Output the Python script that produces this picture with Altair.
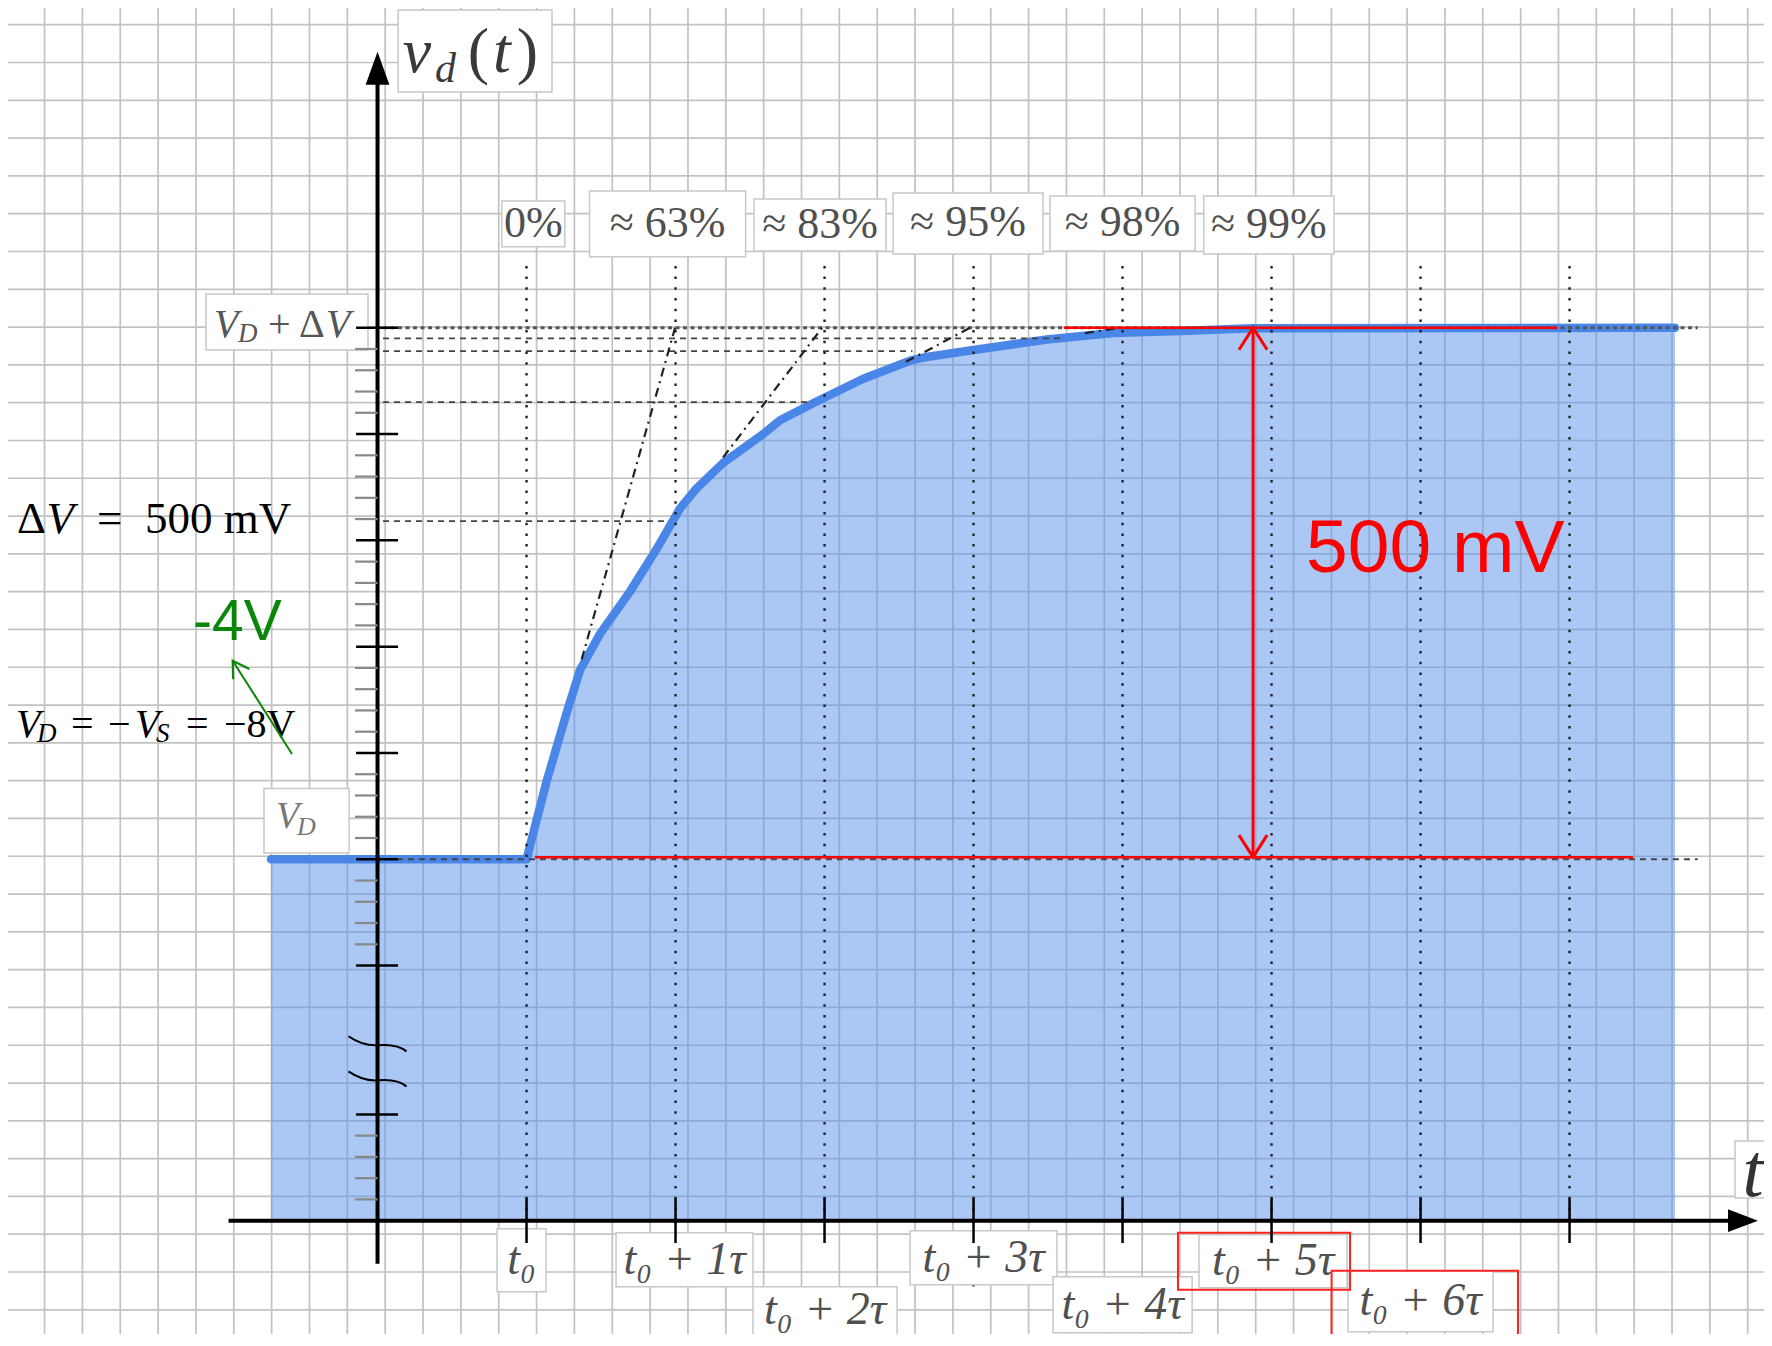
import altair as alt
import pandas as pd

W, H = 1756, 1326
SERIF = "Liberation Serif"
SANS = "Liberation Sans"

# ---------------- values ----------------
# time in units of tau (v_d axis at 0, t0 at 1); voltage in mV above V_D
CURVE_T = [-0.715, 1.0, 1.136, 1.27, 1.359, 1.493, 1.695, 1.874, 2.03, 2.142, 2.321,
           2.589, 2.701, 2.923, 3.26, 3.574, 3.663, 3.999, 4.491, 4.936, 5.386, 5.876, 8.708]
CURVE_MV = [0, 0, 74, 138, 178, 212, 252, 292, 330, 349, 373,
            400, 413, 429, 452, 469, 472, 479, 489, 495, 497, 499.5, 500]
T_AXIS_MV = -340

X_TICKS = [1, 2, 3, 4, 5, 6, 7, 8]
X_TICKS_LOW_DOTS = [2, 4, 6]
MAJOR_MV = [500, 400, 300, 200, 100, 0, -100, -240]
MINOR_MV = [480, 460, 440, 420, 380, 360, 340, 320, 280, 260, 240, 220, 180, 160, 140, 120,
            80, 60, 40, 20, -20, -40, -60, -80, -260, -280, -300, -320]
BREAK_MV = [-175, -208]

GUIDE_MV = [318, 430, 478, 490]
GUIDE_END_T = [1.93, 2.92, 3.59, 4.58]
FULL_END_T = 8.86

TAN_T1 = [1.370, 2.319, 3.547, 4.748]
TAN_MV1 = [188, 378, 468, 495]
TAN_T2 = [1.997, 2.984, 3.977, 4.983]
TAN_MV2 = [500, 500, 500, 500]

PCT_LABELS = ["0%", "≈ 63%", "≈ 83%", "≈ 95%", "≈ 98%", "≈ 99%"]
PCT_X1 = [0.834, 1.423, 2.527, 3.460, 4.513, 5.545]
PCT_X2 = [1.257, 2.470, 3.413, 4.466, 5.487, 6.419]
PCT_Y1 = [619.3, 628.7, 621.2, 626.8, 624.0, 624.0]
PCT_Y2 = [576.3, 566.9, 572.3, 569.4, 572.3, 569.4]

TIME_LABELS = ["t₀", "t₀ + 1τ", "t₀ + 2τ", "t₀ + 3τ", "t₀ + 4τ", "t₀ + 5τ", "t₀ + 6τ"]
TIME_X1 = [0.802, 1.601, 2.520, 3.574, 4.534, 5.513, 6.513]
TIME_X2 = [1.131, 2.520, 3.487, 4.560, 5.467, 6.507, 7.487]
TIME_Y1 = [-347.6, -351.3, -402.2, -349.5, -392.8, -353.2, -387.0]
TIME_Y2 = [-406.9, -402.2, -470.0, -400.3, -445.5, -403.1, -444.6]

RED_BOX_X1 = [5.372, 6.403]
RED_BOX_X2 = [6.527, 7.654]
RED_BOX_Y1 = [-351.3, -387.0]
RED_BOX_Y2 = [-404.9, -470.0]

DELTA_MV = 500
ARROW_T = 5.876

GRID_COLS = list(range(1, 47))
GRID_ROWS = list(range(0, 35))

# ---------------- scales ----------------
XS = alt.Scale(domain=[-2.48, 9.305], nice=False, zero=False)
YS = alt.Scale(domain=[-446.6, 800.8], nice=False, zero=False)
GXS = alt.Scale(domain=[0.0343, 46.43], nice=False, zero=False)
GYS = alt.Scale(domain=[-0.442, 34.64], nice=False, zero=False, reverse=True)


def X(f="x"):
    return alt.X(f"{f}:Q", scale=XS, axis=None)


def Y(f="y"):
    return alt.Y(f"{f}:Q", scale=YS, axis=None)


def segs(x1, y1, x2, y2, **mk):
    df = pd.DataFrame({"x": x1, "y": y1, "x2": x2, "y2": y2})
    return alt.Chart(df).mark_rule(**mk).encode(
        x=X(), y=Y(), x2=alt.X2("x2:Q"), y2=alt.Y2("y2:Q"))


def rects(x1, x2, y1, y2, **mk):
    df = pd.DataFrame({"x": x1, "x2": x2, "y": y1, "y2": y2})
    return alt.Chart(df).mark_rect(**mk).encode(
        x=X(), x2=alt.X2("x2:Q"), y=Y(), y2=alt.Y2("y2:Q"))


def pts(xs, ys, shape, size, **mk):
    df = pd.DataFrame({"x": xs, "y": ys})
    return alt.Chart(df).mark_point(shape=shape, size=size, opacity=1, **mk).encode(x=X(), y=Y())


def txt(items, size, color, italic=False, font=SERIF, align="left", baseline="alphabetic"):
    df = pd.DataFrame(items, columns=["label", "x", "y"])
    return alt.Chart(df).mark_text(
        font=font, fontSize=size, fontStyle="italic" if italic else "normal",
        color=color, align=align, baseline=baseline).encode(x=X(), y=Y(), text="label:N")


layers = []

# graph paper
layers.append(alt.Chart(pd.DataFrame({"g": GRID_COLS})).mark_rule(color="#c2c2c2", strokeWidth=1.7)
              .encode(x=alt.X("g:Q", scale=GXS, axis=None)))
layers.append(alt.Chart(pd.DataFrame({"g": GRID_ROWS})).mark_rule(color="#c2c2c2", strokeWidth=1.7)
              .encode(y=alt.Y("g:Q", scale=GYS, axis=None)))

# filled response
curve = pd.DataFrame({"x": CURVE_T, "y": CURVE_MV, "y2": [T_AXIS_MV] * len(CURVE_T)})
layers.append(alt.Chart(curve).mark_area(color="#5790ea", opacity=0.5)
              .encode(x=X(), y=Y(), y2=alt.Y2("y2:Q")))
layers.append(alt.Chart(curve).mark_line(color="#4a86e8", strokeWidth=8.5, strokeCap="round",
                                         strokeJoin="round").encode(x=X(), y=Y()))

# guide levels
n = len(GUIDE_MV)
layers.append(segs([0.037] * n, GUIDE_MV, GUIDE_END_T, GUIDE_MV,
                   color="#444", strokeWidth=1.8, strokeDash=[6, 5]))
layers.append(segs([0.13], [0], [FULL_END_T], [0], color="#444", strokeWidth=1.8, strokeDash=[6, 5]))
layers.append(segs([0.037], [DELTA_MV], [FULL_END_T], [DELTA_MV],
                   color="#555", strokeWidth=3.2, strokeDash=[4, 3.5]))

# vertical dotted lines
k = len(X_TICKS)
layers.append(segs(X_TICKS, [T_AXIS_MV] * k, X_TICKS, [561] * k,
                   color="#222", strokeWidth=2.4, strokeDash=[2.5, 8.2]))
m = len(X_TICKS_LOW_DOTS)
layers.append(segs(X_TICKS_LOW_DOTS, [T_AXIS_MV] * m, X_TICKS_LOW_DOTS, [-402] * m,
                   color="#222", strokeWidth=2.4, strokeDash=[2.5, 8.2]))

# tangents
layers.append(segs(TAN_T1, TAN_MV1, TAN_T2, TAN_MV2,
                   color="#222", strokeWidth=2.2, strokeDash=[9, 5, 2, 5]))

# red dimension lines
layers.append(segs([4.607, 1.057], [DELTA_MV, 2], [7.916, 8.426], [DELTA_MV, 2],
                   color="#ff0000", strokeWidth=2.5))
layers.append(segs([ARROW_T], [2], [ARROW_T], [DELTA_MV], color="#ff0000", strokeWidth=3))
layers.append(pts([ARROW_T], [DELTA_MV], "M -0.64 1 L 0 0 L 0.64 1", 1936,
                  filled=False, color="#ff0000", strokeWidth=3))
layers.append(pts([ARROW_T], [2], "M -0.64 -1 L 0 0 L 0.64 -1", 1936,
                  filled=False, color="#ff0000", strokeWidth=3))

# white label boxes
BOX_STYLE = dict(fill="white", stroke="#c8c8c8", strokeWidth=1.5)
layers.append(rects(PCT_X1, PCT_X2, PCT_Y1, PCT_Y2, **BOX_STYLE))
layers.append(rects(TIME_X1, TIME_X2, TIME_Y1, TIME_Y2, **BOX_STYLE))
layers.append(rects([0.138, -1.151, -0.762, 9.111], [1.171, -0.064, -0.191, 9.6],
                    [798.9, 531.8, 66.6, -265.0], [721.7, 479.1, 6.0, -318.6], **BOX_STYLE))

GRAY = "#505050"
pct_items = [(lab, (a + b) / 2, (c + d) / 2) for lab, a, b, c, d in
             zip(PCT_LABELS, PCT_X1, PCT_X2, PCT_Y1, PCT_Y2)]
layers.append(txt(pct_items, 44, GRAY, align="center", baseline="middle"))
time_items = [(lab, (a + b) / 2, (c + d) / 2) for lab, a, b, c, d in
              zip(TIME_LABELS, TIME_X1, TIME_X2, TIME_Y1, TIME_Y2)]
time_items[2] = (TIME_LABELS[2], (TIME_X1[2] + TIME_X2[2]) / 2, -424.0)
layers.append(txt(time_items, 46, GRAY, italic=True, align="center", baseline="middle"))
layers.append(txt([("t", 9.16, -316.9)], 76, "#333", italic=True))

# title v_d(t)
layers.append(txt([("v", 0.17, 741.0), ("t", 0.775, 741.0)], 64, "#3a3a3a", italic=True))
layers.append(txt([("(", 0.605, 741.0), (")", 0.935, 741.0)], 64, "#3a3a3a"))
layers.append(txt([("d", 0.385, 731.2)], 42, "#3a3a3a", italic=True))

# V_D + ΔV and V_D labels
layers.append(txt([("V", -1.097, 491.6), ("V", -0.346, 491.6)], 40, "#555", italic=True))
layers.append(txt([("D", -0.936, 487.0)], 27, "#555", italic=True))
layers.append(txt([("+", -0.735, 491.6), ("Δ", -0.527, 491.6)], 40, "#555"))
layers.append(txt([("V", -0.681, 29.2)], 38, "#777", italic=True))
layers.append(txt([("D", -0.540, 22.9)], 26, "#777", italic=True))

# black formulas
layers.append(txt([("Δ", -2.419, 306.7), ("=", -1.883, 306.7), ("500 mV", -1.560, 306.7)], 45, "black"))
layers.append(txt([("V", -2.222, 306.7)], 45, "black", italic=True))
layers.append(txt([("V", -2.426, 115.3), ("V", -1.628, 115.3)], 40, "black", italic=True))
layers.append(txt([("D", -2.285, 110.6), ("S", -1.487, 110.6)], 27, "black", italic=True))
layers.append(txt([("=", -2.057, 115.3), ("−", -1.809, 115.3), ("=", -1.285, 115.3),
                   ("−8V", -1.030, 115.3)], 40, "black"))

# red boxes around two labels
layers.append(rects(RED_BOX_X1, RED_BOX_X2, RED_BOX_Y1, RED_BOX_Y2,
                    fill="white", fillOpacity=0, stroke="#ff2020", strokeWidth=2))

# axes
layers.append(segs([-1.0], [T_AXIS_MV], [9.12], [T_AXIS_MV], color="black", strokeWidth=4))
layers.append(segs([0], [-380.4], [0], [740], color="black", strokeWidth=4))
layers.append(segs(X_TICKS, [-318.6] * k, X_TICKS, [-361] * k, color="black", strokeWidth=2.5))
j = len(MAJOR_MV)
layers.append(segs([-0.144] * j, MAJOR_MV, [0.138] * j, MAJOR_MV, color="black", strokeWidth=2.5))
q = len(MINOR_MV)
layers.append(segs([-0.151] * q, MINOR_MV, [0] * q, MINOR_MV, color="#888", strokeWidth=2.2))
layers.append(pts([0], [744.1], "M 0 -1 L -0.72 1 L 0.72 1 Z", 1089, filled=True, color="black"))
layers.append(pts([9.164], [T_AXIS_MV], "M 1 0 L -1 -0.76 L -1 0.76 Z", 900, filled=True, color="black"))
layers.append(pts([0, 0], BREAK_MV,
                  "M -1 -0.31 C -0.7 -0.1 -0.4 0.02 0 0 C 0.4 -0.04 0.75 0 1 0.21", 3364,
                  filled=False, color="black", strokeWidth=2))

# green annotation
GREEN = "#0a870a"
layers.append(segs([-0.574], [99.1], [-0.972], [186.8], color=GREEN, strokeWidth=2))
layers.append(pts([-0.972], [186.8], "M -0.6 1 L 0 0 L 0.6 1", 1024,
                  filled=False, color=GREEN, strokeWidth=2.2, angle=327.6))
layers.append(txt([("-4V", -1.238, 206.3)], 57, GREEN, font=SANS))

# red value
layers.append(txt([("500 mV", 6.232, 270.5)], 75, "#ff0000", font=SANS))

chart = (alt.layer(*layers)
         .resolve_scale(x="independent", y="independent")
         .properties(width=W, height=H, padding=0, autosize=alt.AutoSizeParams(type="none"),
                     background="white")
         .configure_view(stroke=None))

chart.save("out.html", embed_options={"renderer": "svg", "actions": False})
